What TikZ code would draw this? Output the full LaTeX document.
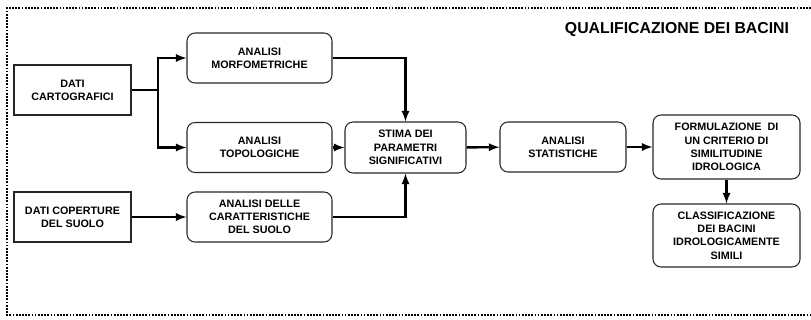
\documentclass[tikz,border=0pt]{standalone}
\usepackage{fontspec}
\setmainfont{Liberation Sans}
\usepackage{tikz}
\usetikzlibrary{arrows}

\begin{document}
\begin{tikzpicture}[x=0.3mm, y=-0.3mm,
		box/.style={draw=black!85, line width=0.9pt, align=center, inner sep=1pt,
			font=\bfseries\fontsize{9.2}{11.3}\selectfont},
		rbox/.style={box, rounded corners=2.4mm},
		arr/.style={-latex, line width=2.1pt}]
		\useasboundingbox (0,0) rectangle (811,320);
		
		\draw [line width=1.6pt, dash pattern=on 1.5pt off 1.2pt] (811,8)--(7,8)--(7,315)--(811,315);
		\node [font=\bfseries\fontsize{13.5}{15}\selectfont] (title) at (677,30) {QUALIFICAZIONE DEI BACINI};
		
		\node [box, minimum width=3.51cm, minimum height=1.5cm] (cart) at (72.5,90) {DATI\\CARTOGRAFICI};
		\node [box, minimum width=3.51cm, minimum height=1.5cm] (suolo) at (72.5,217) {DATI COPERTURE\\DEL SUOLO};
		
		\node [rbox, minimum width=4.35cm, minimum height=1.5cm] (morfo) at (259.5,58) {ANALISI\\MORFOMETRICHE};
		\node [rbox, minimum width=4.35cm, minimum height=1.5cm] (topo) at (259.5,147.5) {ANALISI\\TOPOLOGICHE};
		\node [rbox, minimum width=4.35cm, minimum height=1.5cm] (caratt) at (259.5,217) {ANALISI DELLE\\CARATTERISTICHE\\DEL SUOLO};
		
		\node [rbox, minimum width=3.63cm, minimum height=1.53cm] (stima) at (405.5,147.5) {STIMA DEI\\PARAMETRI\\SIGNIFICATIVI};
		\node [rbox, minimum width=3.78cm, minimum height=1.5cm] (stat) at (563,147) {ANALISI\\STATISTICHE};
		\node [rbox, minimum width=4.41cm, minimum height=1.92cm] (crit) at (726.5,147) {FORMULAZIONE~ DI\\UN CRITERIO DI\\SIMILITUDINE\\IDROLOGICA};
		\node [rbox, minimum width=4.41cm, minimum height=1.89cm] (classi) at (726.5,235.5) {CLASSIFICAZIONE\\DEI BACINI\\IDROLOGICAMENTE\\SIMILI};
		
		\coordinate (split) at (158,90);
		\draw [line width=2.1pt] (cart.east)--(split);
		\draw [arr] (split) |- (morfo.west);
		\draw [arr] (split) |- (topo.west);
		\draw [arr] (suolo)--(caratt);
		
		\draw [arr] (morfo.east) -| (stima.north);
		\draw [arr] (caratt.east) -| (stima.south);
		\draw [arr] (topo)--(stima);
		\draw [arr] (stima)--(stat);
		\draw [arr] (stat)--(crit);
		\draw [arr] (crit)--(classi);
\end{tikzpicture}
\end{document}
